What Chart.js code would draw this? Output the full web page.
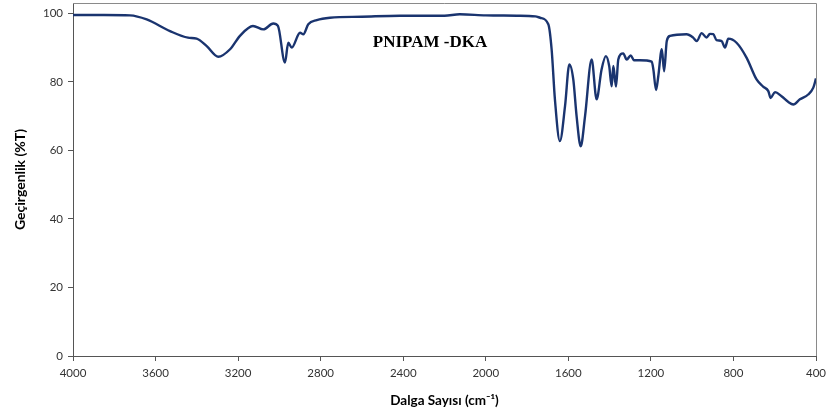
<!DOCTYPE html>
<html>
<head>
<meta charset="utf-8">
<script src="https://cdn.jsdelivr.net/npm/chart.js@4.4.1/dist/chart.umd.min.js"></script>
<style>
  html, body { margin: 0; padding: 0; background: #fff; }
  #wrap { width: 830px; height: 415px; }
</style>
</head>
<body>
<div id="wrap"><canvas id="ftirChart"></canvas></div>
<script>
// Dalga sayisi (cm-1) ve gecirgenlik (%T)
const wavenumbers = [4000, 3850, 3724, 3643, 3530, 3443, 3401, 3352, 3296, 3239, 3191, 3128, 3078, 3030, 3007,
    2973, 2957, 2940, 2900, 2884, 2860, 2819, 2755, 2600, 2416, 2300, 2200, 2126, 2000, 1850, 1760,
    1737, 1697, 1681, 1665, 1641, 1616, 1595, 1576, 1560, 1540, 1519, 1487, 1463, 1439, 1418, 1402,
    1390, 1382, 1369, 1358, 1334, 1317, 1298, 1282, 1253, 1196, 1188, 1175, 1164, 1147, 1136, 1123,
    1107, 1027, 995, 978, 954, 930, 914, 898, 882, 857, 841, 825, 785, 736, 688, 656, 631, 620,
    599, 567, 534, 510, 478, 438, 413, 400];
const transmittance = [99.5, 99.5, 99.4, 98.2, 94.8, 92.9, 92.6, 90.4, 87.3, 89.5, 93.4, 96.3, 95.3, 97.0, 96.3,
    85.6, 91.4, 90.0, 94.3, 93.9, 96.8, 98.0, 98.7, 99.0, 99.3, 99.3, 99.3, 99.7, 99.4, 99.3, 99.1,
    98.7, 96.8, 89.5, 74.9, 62.7, 72.9, 85.1, 80.7, 70.0, 61.2, 70.0, 86.5, 74.9, 83.6, 87.5, 84.6,
    78.7, 84.6, 78.6, 86.5, 88.3, 86.5, 87.7, 86.3, 86.3, 85.9, 83.6, 77.6, 81.7, 89.5, 83.1, 91.9,
    93.4, 93.9, 92.9, 91.9, 94.2, 92.9, 94.0, 93.9, 92.2, 91.9, 90.0, 92.6, 91.4, 87.0, 80.7, 78.6, 77.3, 75.3,
    77.0, 75.8, 74.1, 73.4, 74.9, 76.3, 78.3, 81.0];
const xTicks = [4000, 3600, 3200, 2800, 2400, 2000, 1600, 1200, 800, 400];
const yTicks = [0, 20, 40, 60, 80, 100];
const sampleName = "PNIPAM -DKA";

const points = wavenumbers.map((w, i) => ({ x: w, y: transmittance[i] }));

// cerceve ve numune etiketi
const framePlugin = {
    id: "frame",
    afterDatasetsDraw(chart) {
        const { ctx, chartArea, scales } = chart;
        ctx.save();
        ctx.strokeStyle = "#8a8a8a";
        ctx.lineWidth = 1;
        ctx.beginPath();
        ctx.moveTo(chartArea.left, chartArea.top + 0.5);
        ctx.lineTo(chartArea.right + 0.5, chartArea.top + 0.5);
        ctx.lineTo(chartArea.right + 0.5, chartArea.bottom);
        ctx.stroke();
        ctx.font = "bold 17px 'Liberation Serif'";
        ctx.fillStyle = "#000";
        ctx.textAlign = "center";
        ctx.textBaseline = "middle";
        ctx.fillText(sampleName, scales.x.getPixelForValue(2270), scales.y.getPixelForValue(91.5));
        ctx.restore();
    }
};

const ctx = document.getElementById("ftirChart").getContext("2d");
const ftirChart = new Chart(ctx, {
    type: "line",
    data: {
        datasets: [{
            data: points,
            borderColor: "#1a346f",
            borderWidth: 2.4,
            pointRadius: 0,
            fill: false,
            cubicInterpolationMode: "monotone"
        }]
    },
    options: {
        responsive: true,
        maintainAspectRatio: false,
        animation: false,
        parsing: false,
        layout: { padding: { left: 0, top: 3, right: 14, bottom: 0 } },
        plugins: {
            legend: { display: false },
            tooltip: { enabled: false }
        },
        scales: {
            x: {
                type: "linear",
                reverse: true,
                min: 400,
                max: 4000,
                afterBuildTicks: s => { s.ticks = xTicks.map(v => ({ value: v })); },
                afterFit: s => { s.height = 59; s.paddingLeft = 0; s.paddingRight = 0; },
                grid: { drawOnChartArea: false, tickLength: 5, color: "#555" },
                border: { color: "#555", width: 1 },
                ticks: {
                    color: "#333", font: { family: "Lato", size: 11.5 }, padding: 5, maxRotation: 0,
                    callback: v => String(v)
                },
                title: {
                    display: true,
                    text: "Dalga Sayısı (cm⁻¹)",
                    color: "#000",
                    font: { family: "Lato", size: 13.5, weight: "bold" },
                    padding: { top: 4, bottom: 6 }
                }
            },
            y: {
                min: 0,
                max: 103,
                afterBuildTicks: s => { s.ticks = yTicks.map(v => ({ value: v })); },
                afterFit: s => { s.width = 73; s.paddingTop = 0; s.paddingBottom = 0; },
                grid: { drawOnChartArea: false, tickLength: 5, color: "#555" },
                border: { color: "#555", width: 1 },
                ticks: { color: "#333", font: { family: "Lato", size: 11.5 }, padding: 5 },
                title: {
                    display: true,
                    text: "Geçirgenlik (%T)",
                    color: "#000",
                    font: { family: "Lato", size: 14, weight: "bold" },
                    padding: { top: 12, bottom: 0 }
                }
            }
        }
    },
    plugins: [framePlugin]
});
</script>
</body>
</html>
